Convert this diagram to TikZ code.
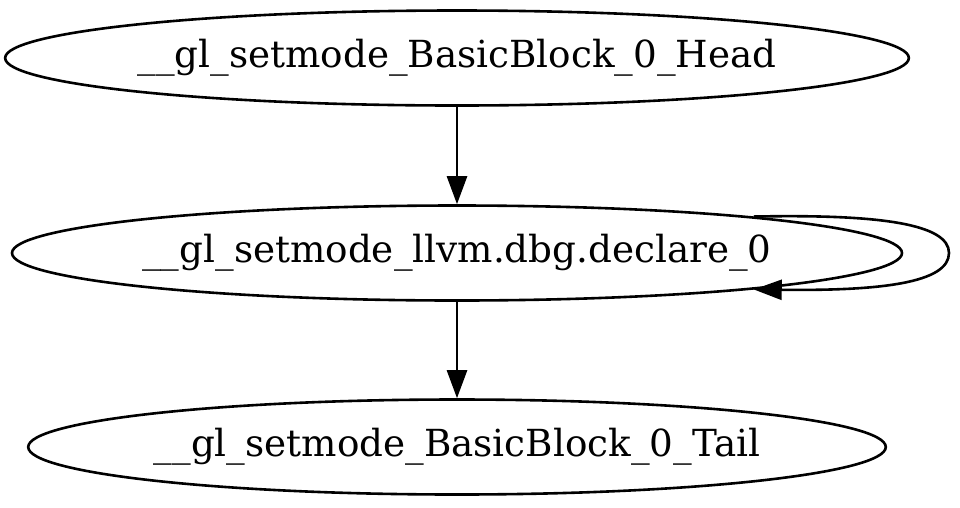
\documentclass[tikz,border=0pt]{standalone}
\usepackage{fontspec}
\setmainfont{DejaVu Serif}
\usetikzlibrary{shapes.geometric,arrows.meta}
\begin{document}
\begin{tikzpicture}[x=1pt,y=-1pt,
  block/.style={ellipse, draw=black, line width=2.6pt, inner sep=0pt,
    minimum height=95pt, font=\fontsize{37.3}{44}\selectfont},
  edge/.style={line width=2.6pt, -{Triangle[length=28pt,width=20pt]}}]
\useasboundingbox (0,0) rectangle (960,507);
\node [block, minimum width=896pt] (head) at (457,58) {\_\_gl\_setmode\_BasicBlock\_0\_Head};
\node [block, minimum width=887pt] (declare) at (457,253) {\_\_gl\_setmode\_llvm.dbg.declare\_0};
\node [block, minimum width=850pt] (tail) at (457,447) {\_\_gl\_setmode\_BasicBlock\_0\_Tail};
\coordinate (loopend) at (949,253);
\draw [edge] (head) -- (declare);
\draw [edge] (declare) -- (tail);
\draw [edge] (declare.7) .. controls (880,214) and (949,224) .. (loopend)
  .. controls (949,283) and (880,291) .. (declare.-7);
\end{tikzpicture}
\end{document}
